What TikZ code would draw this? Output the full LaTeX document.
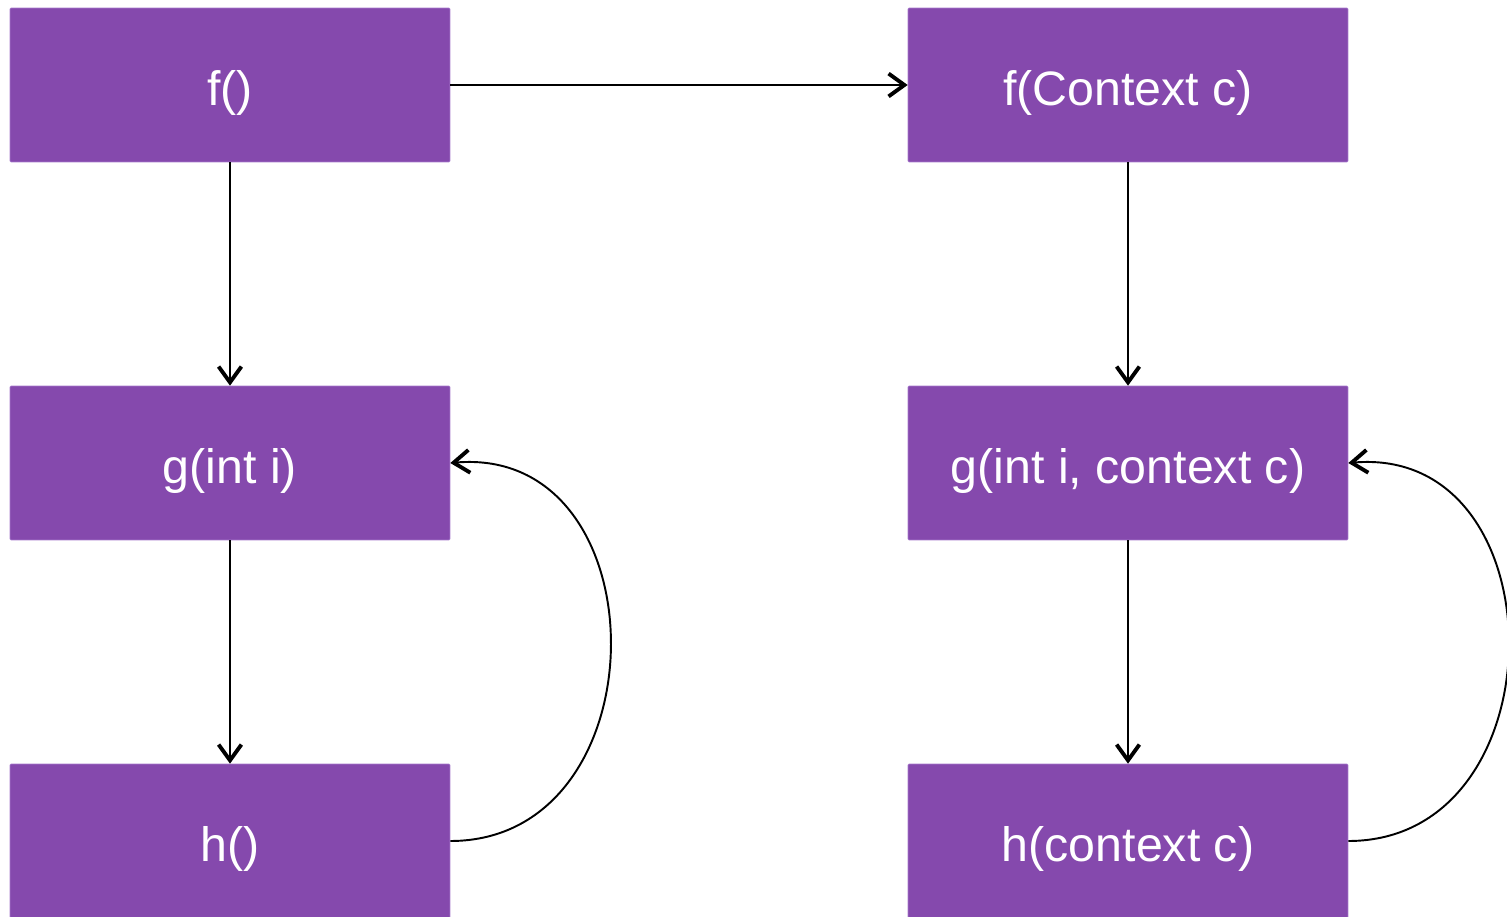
\documentclass[tikz,border=0pt]{standalone}
\usepackage{fontspec}
\setmainfont{Liberation Sans}
\usetikzlibrary{arrows.meta}
\definecolor{boxpurple}{HTML}{8549AD}
\definecolor{boxedge}{HTML}{A679CC}

\begin{document}
\begin{tikzpicture}[x=0.02cm, y=-0.02cm,
	func/.style={draw=boxedge, line width=0.4pt, fill=boxpurple, rounded corners=0.6pt,
		minimum width=8.8cm, minimum height=3.08cm, inner sep=0pt,
		text height=29pt, text depth=6pt,
		text=white, font=\fontsize{27.5}{32}\selectfont},
	call/.style={line width=1.1pt, -{Straight Barb[length=9pt, width=13pt, line width=2.2pt]}}]
	\useasboundingbox (0,0) rectangle (1507,916);
	\node[func] (f) at (230,85) {f()};
	\node[func] (g) at (230,463) {g(int i)};
	\node[func] (h) at (230,841) {h()};
	\node[func] (fctx) at (1128,85) {f(Context c)};
	\node[func] (gctx) at (1128,463) {g(int i, context c)};
	\node[func] (hctx) at (1128,841) {h(context c)};
	\draw[call] (f) -- (fctx);
	\draw[call] (f) -- (g);
	\draw[call] (g) -- (h);
	\draw[call] (fctx) -- (gctx);
	\draw[call] (gctx) -- (hctx);
	\draw[call] (h.east) to[out=0, in=5, looseness=1.45] (g.east);
	\draw[call] (hctx.east) to[out=0, in=5, looseness=1.45] (gctx.east);
\end{tikzpicture}
\end{document}
